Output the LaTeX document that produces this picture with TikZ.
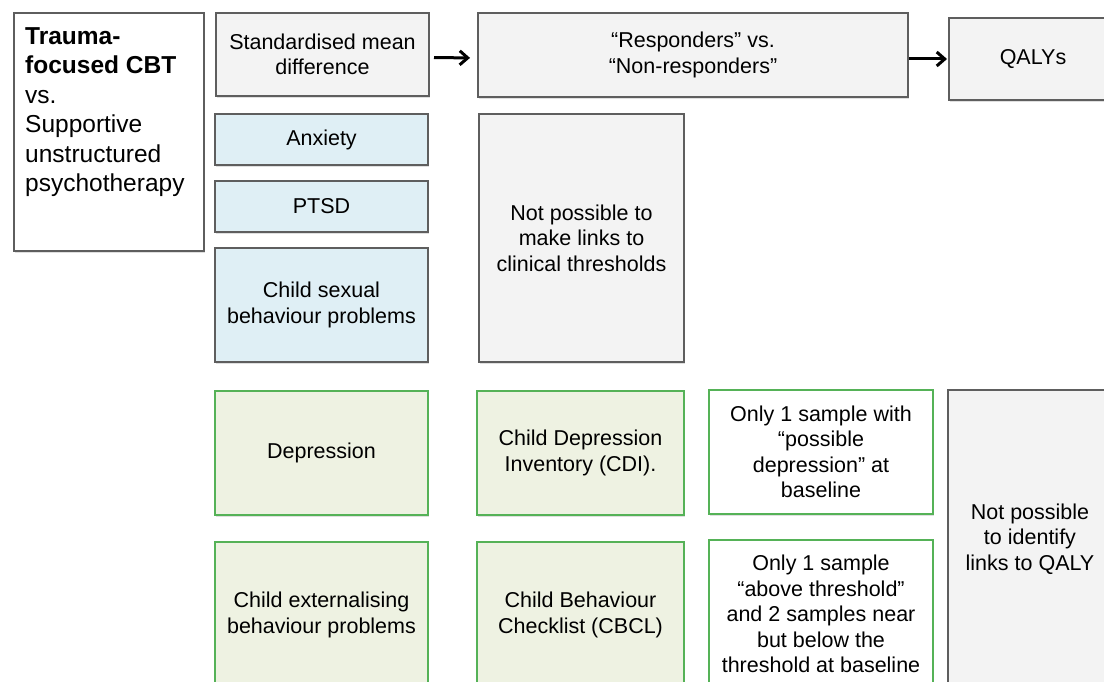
\documentclass[tikz,border=0pt]{standalone}
\usepackage{fontspec}
\setmainfont{Liberation Sans}
\usetikzlibrary{arrows.meta,shadows}
\definecolor{bgrey}{HTML}{F3F3F3}
\definecolor{lineg}{HTML}{5E5E5E}
\definecolor{bluef}{HTML}{DFEFF5}
\definecolor{greenf}{HTML}{EEF2E2}
\definecolor{greenl}{HTML}{55B257}
\begin{document}
\begin{tikzpicture}[x=1pt,y=-1pt,
 box/.style={draw=lineg, line width=2pt, anchor=north west, inner sep=0pt, align=center,
   font=\fontsize{21.5}{25.5}\selectfont,
   drop shadow={shadow xshift=1pt, shadow yshift=-2pt, opacity=0.25}},
 greybox/.style={box, fill=bgrey},
 bluebox/.style={box, fill=bluef},
 greenbox/.style={box, fill=greenf, draw=greenl},
 whitegreen/.style={box, fill=white, draw=greenl},
 arr/.style={line width=3pt, -{Straight Barb[length=8pt,width=14pt]}}
]
\useasboundingbox (0,0) rectangle (1104,682);
\clip (0,0) rectangle (1104,682);

\node[box, fill=white, minimum width=190pt, minimum height=238pt] (ttl) at (13,12) {};
\node[anchor=north west, inner sep=0pt, align=left, font=\fontsize{24.5}{29.5}\selectfont] (ttltxt) at (25,27)
  {\textbf{Trauma-}\\\textbf{focused CBT}\\vs.\\Supportive\\unstructured\\psychotherapy};

\node[greybox, minimum width=213pt, minimum height=83pt] (smd) at (215,12) {Standardised mean\\difference};
\node[bluebox, minimum width=213pt, minimum height=51pt] (anx) at (214,113) {Anxiety};
\node[bluebox, minimum width=213pt, minimum height=51pt] (ptsd) at (214,180) {PTSD};
\node[bluebox, minimum width=213pt, minimum height=114pt] (csb) at (214,247) {Child sexual\\behaviour problems};

\node[greybox, minimum width=430pt, minimum height=84pt] (resp) at (477,12) {“Responders” vs.\\“Non-responders”};
\node[greybox, minimum width=168pt, minimum height=82pt] (qaly) at (948,17) {QALYs};
\node[greybox, minimum width=205pt, minimum height=248pt] (np) at (478,113) {Not possible to\\make links to\\clinical thresholds};

\node[greenbox, minimum width=213pt, minimum height=124pt] (dep) at (214,390) {Depression};
\node[greenbox, minimum width=207pt, minimum height=124pt] (cdi) at (476,390) {Child Depression\\Inventory (CDI).};
\node[whitegreen, minimum width=224pt, minimum height=124pt] (only1) at (708,389) {Only 1 sample with\\“possible\\depression” at\\baseline};
\node[greybox, minimum width=164pt, minimum height=298pt] (npq) at (947,389) {Not possible\\to identify\\links to QALY};

\node[greenbox, minimum width=213pt, minimum height=146pt] (ext) at (214,541) {Child externalising\\behaviour problems};
\node[greenbox, minimum width=207pt, minimum height=146pt] (cbcl) at (476,541) {Child Behaviour\\Checklist (CBCL)};
\node[whitegreen, minimum width=224pt, minimum height=148pt] (only2) at (708,539) {Only 1 sample\\“above threshold”\\and 2 samples near\\but below the\\threshold at baseline};

\draw[arr, shorten <=4pt, shorten >=7pt] ([yshift=-3pt]smd.east) -- ([yshift=-3pt]resp.west);
\draw[arr, shorten >=1pt] (resp.east |- qaly.west) -- (qaly.west);
\end{tikzpicture}
\end{document}
